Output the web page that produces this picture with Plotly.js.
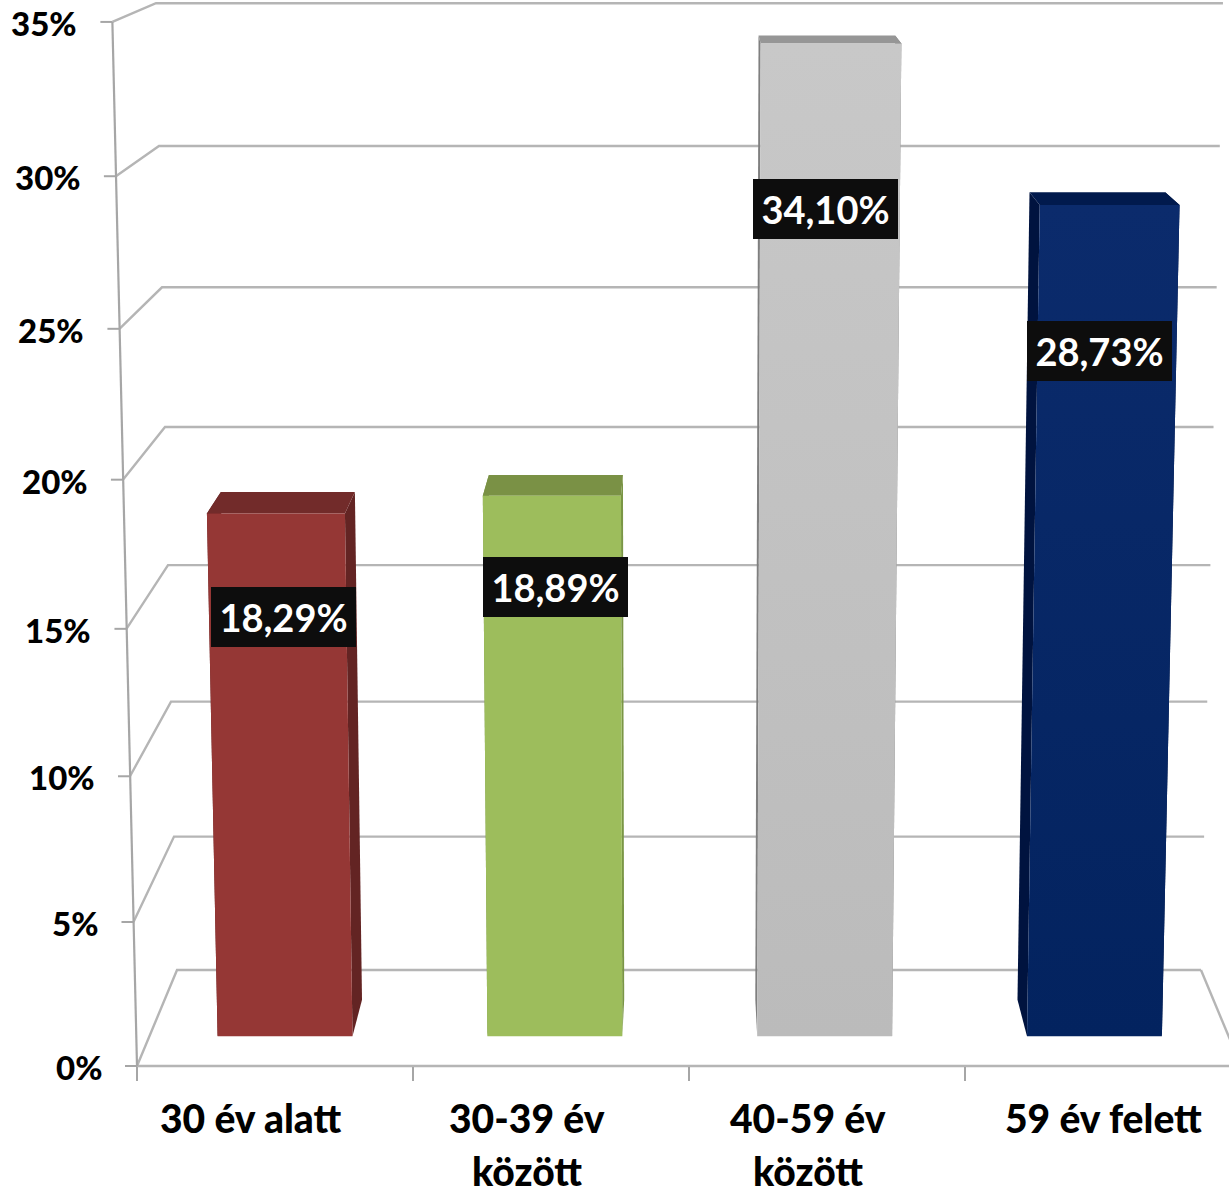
<!DOCTYPE html>
<html>
<head>
<meta charset="utf-8">
<script src="https://cdn.plot.ly/plotly-3.0.1.min.js"></script>
<style>html,body{margin:0;padding:0;background:#fff;overflow:hidden}</style>
</head>
<body>
<div id="chart" style="width:1229px;height:1197px"></div>
<script>
// ---- data ----
const categories = ["30 év alatt", "30-39 év között", "40-59 év között", "59 év felett"];
const values = [18.29, 18.89, 34.10, 28.73];
const valueLabels = ["18,29%", "18,89%", "34,10%", "28,73%"];
const yTicks = [0, 5, 10, 15, 20, 25, 30, 35];
const yTickLabels = ["0%", "5%", "10%", "15%", "20%", "25%", "30%", "35%"];
const frontColors = ["#953735", "#9dbd5c", "#c2c2c2", "#05255f"];
const topColors = ["#722b2a", "#7a9145", "#969696", "#011a4d"];
const sideColors = ["#632423", "#7a9645", "#7f7f7f", "#00133f"];

// ---- layout constants (the pseudo-3D camera of the original chart) ----
const W = 1229, H = 1197, LEFT = 137, BASE = 1066;
const CAT_PX = 276, UNIT_PX = 29.83;
const GRID = "#b5b5b5", AXIS = "#a6a6a6";
const FONT = "Lato, Carlito, 'Open Sans', sans-serif";

// pixel -> axis units
const ax = (px, py) => [(px - LEFT) / CAT_PX, (BASE - py) / UNIT_PX];

// project (category position, value, depth 0..1) to axis units
function project(c, v, d) {
  const y0 = BASE - 96 * d;
  const a = 28.63 - 2.11 * d, b = 0.0343 - 0.0028 * d;
  const py = y0 - a * v - b * v * v;
  const xs = 689 + (LEFT + CAT_PX * c - 689) * (1 - 0.0725 * d) + 3.5 * d * (1 - d);
  const px = xs + v * (xs - 678) * (0.0013 - 0.0001 * d);
  return ax(px, py);
}

function poly(points, color, gradient) {
  const t = {
    type: "scatter", mode: "lines", hoverinfo: "skip", showlegend: false,
    x: points.map(p => p[0]), y: points.map(p => p[1]),
    fill: "toself", fillcolor: color, line: {width: 0, color: color}
  };
  if (gradient) t.fillgradient = {type: "vertical", colorscale: gradient};
  return t;
}
function segs(list, color, width) {
  const x = [], y = [];
  list.forEach(s => { s.forEach(p => { x.push(p[0]); y.push(p[1]); }); x.push(null); y.push(null); });
  return {type: "scatter", mode: "lines", hoverinfo: "skip", showlegend: false,
          x: x, y: y, line: {color: color, width: width}};
}

const traces = [];

// walls: side-wall diagonal and back-wall line for every tick
traces.push(segs(yTicks.map(v => [project(0, v, 0), project(0, v, 1), project(4, v, 1)]), GRID, 2.4));
// right floor edge and the front floor edge (category axis line)
traces.push(segs([[project(4, 0, 1), project(4, 0, 0)]], GRID, 2.4));
traces.push(segs([[project(0, 0, 0), project(4, 0, 0)]], GRID, 2.6));
// tilted value axis and its ticks
traces.push(segs([[project(0, 35, 0), project(0, 0, 0)]], AXIS, 2.2));
traces.push(segs(yTicks.map(v => {
  const p = project(0, v, 0);
  return [[p[0] - 12 / CAT_PX, p[1]], p];
}), AXIS, 2));

// bars
const D0 = 0.31, D1 = 0.69;
const gradients = [null, null,
  [[0, "#bbbbbb"], [1, "#c8c8c8"]],
  [[0, "#03235f"], [1, "#0b2b6c"]]];
values.forEach((v, i) => {
  const c0 = i + 0.25, c1 = i + 0.75;
  traces.push(poly([project(c0, 0, D0), project(c0, v, D0), project(c0, v, D1), project(c0, 0, D1), project(c0, 0, D0)], sideColors[i]));
  traces.push(poly([project(c1, 0, D0), project(c1, v, D0), project(c1, v, D1), project(c1, 0, D1), project(c1, 0, D0)], sideColors[i]));
  traces.push(poly([project(c0, v, D0), project(c1, v, D0), project(c1, v, D1), project(c0, v, D1), project(c0, v, D0)], topColors[i]));
  const front = poly([project(c0, 0, D0), project(c1, 0, D0), project(c1, v, D0), project(c0, v, D0), project(c0, 0, D0)], frontColors[i], gradients[i]);
  front.name = categories[i];
  traces.push(front);
});

// annotations
const annotations = [];
// value-axis labels follow the tilted axis
yTicks.forEach((v, i) => {
  const p = project(0, v, 0);
  annotations.push({x: p[0], y: p[1], xref: "x", yref: "y", text: yTickLabels[i], showarrow: false,
    xanchor: "right", yanchor: "middle", xshift: -34, yshift: -1, borderpad: 0,
    font: {family: FONT, size: 33, color: "#000", weight: 900}});
});
// category labels
const catCentres = [250.5, 527, 807.5, 1103];
categories.forEach((name, i) => {
  const words = name.split(" ");
  const lines = i === 1 || i === 2 ? [words.slice(0, 2).join(" "), words[2]] : [name];
  lines.forEach((line, j) => {
    const p = ax(catCentres[i], 1118 + 53 * j);
    annotations.push({x: p[0], y: p[1], xref: "x", yref: "y", text: line, showarrow: false,
      xanchor: "center", yanchor: "middle", borderpad: 0,
      font: {family: FONT, size: 39, color: "#000", weight: 900}});
  });
});
// value labels in black boxes
const labelCentres = [[283, 617], [555.5, 586.5], [825.5, 208.5], [1099.5, 350.5]];
valueLabels.forEach((t, i) => {
  const p = ax(labelCentres[i][0], labelCentres[i][1]);
  annotations.push({x: p[0], y: p[1], xref: "x", yref: "y", text: t, showarrow: false,
    xanchor: "center", yanchor: "middle", width: 145, height: 60, bgcolor: "#0d0d0d", borderpad: 0, borderwidth: 0,
    font: {family: FONT, size: 38, color: "#fff", weight: 700}});
});

const layout = {
  width: W, height: H, paper_bgcolor: "#fff", plot_bgcolor: "rgba(0,0,0,0)",
  margin: {l: 0, r: 0, t: 0, b: 0, pad: 0},
  showlegend: false, hovermode: false,
  xaxis: {range: [-LEFT / CAT_PX, (W - LEFT) / CAT_PX], fixedrange: true, showgrid: false, zeroline: false,
    anchor: "free", position: (H - BASE) / H, showline: false,
    tickmode: "array", tickvals: [0, 1, 2, 3, 4], ticktext: ["", "", "", "", ""],
    ticks: "outside", ticklen: 14, tickwidth: 2, tickcolor: AXIS},
  yaxis: {range: [(BASE - H) / UNIT_PX, BASE / UNIT_PX], fixedrange: true, visible: false},
  annotations: annotations
};
Plotly.newPlot("chart", traces, layout, {displayModeBar: false, responsive: false});
</script>
</body>
</html>
